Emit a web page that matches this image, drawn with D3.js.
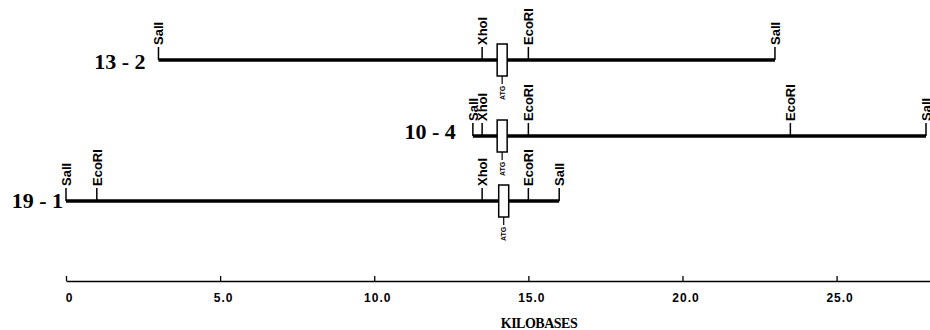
<!DOCTYPE html>
<html>
<head>
<meta charset="utf-8">
<script src="https://cdn.jsdelivr.net/npm/d3@7"></script>
<style>
  html, body { margin: 0; padding: 0; background: #fff; }
  svg { display: block; }
</style>
</head>
<body>
<figure id="map" style="margin:0"></figure>
<script>
// clones and their extent in kilobases
const clones = ["13 - 2", "10 - 4", "19 - 1"];
const cloneStart = [3.0, 13.2, 0];
const cloneEnd = [23.0, 27.9, 16.0];

// restriction sites for each clone
const siteNames = [
  ["SalI", "XhoI", "EcoRI", "SalI"],
  ["SalI", "XhoI", "EcoRI", "EcoRI", "SalI"],
  ["SalI", "EcoRI", "XhoI", "EcoRI", "SalI"]
];
const sitePos = [
  [3.0, 13.5, 15.0, 23.0],
  [13.2, 13.5, 15.0, 23.5, 27.9],
  [0, 1.0, 13.5, 15.0, 16.0]
];

// ATG box position for each clone
const atgPos = [14.15, 14.15, 14.2];

// axis ticks
const tickValues = [0, 5, 10, 15, 20, 25];
const tickLabels = ["0", "5.0", "10.0", "15.0", "20.0", "25.0"];
const axisTitle = "KILOBASES";

const width = 930;
const height = 330;

// layout of the rows
const rowY = [60, 136, 201];
const labelGap = [13, 17, 3];
const labelDy = [9, 3, 7];

const svg = d3.select("figure#map")
  .append("svg")
  .attr("width", width)
  .attr("height", height)
  .style("background", "#fff");

const x = d3.scaleLinear()
  .domain([0, 28.03])
  .range([66, 930]);

// Draw each clone
clones.forEach((name, i) => {
  const g = svg.append("g")
    .attr("transform", "translate(0," + rowY[i] + ")");

  // clone label
  g.append("text")
    .attr("x", x(cloneStart[i]) - labelGap[i])
    .attr("y", labelDy[i])
    .attr("text-anchor", "end")
    .style("font-family", "'Liberation Serif', 'Times New Roman', serif")
    .style("font-weight", "bold")
    .style("font-size", "22px")
    .text(name);

  // the clone itself
  g.append("line")
    .attr("x1", x(cloneStart[i]))
    .attr("x2", x(cloneEnd[i]))
    .attr("y1", 0)
    .attr("y2", 0)
    .attr("stroke", "#000")
    .attr("stroke-width", 3.5);

  // site ticks
  g.selectAll("line.site")
    .data(sitePos[i])
    .enter()
    .append("line")
    .attr("class", "site")
    .attr("x1", d => x(d))
    .attr("x2", d => x(d))
    .attr("y1", 0)
    .attr("y2", -13)
    .attr("stroke", "#000")
    .attr("stroke-width", 1.5);

  // site names, rotated
  g.selectAll("text.site")
    .data(sitePos[i])
    .enter()
    .append("text")
    .attr("class", "site")
    .attr("transform", d => "translate(" + (x(d) + 5) + ",-15)rotate(-90)")
    .style("font-family", "'Liberation Sans', Arial, sans-serif")
    .style("font-weight", "bold")
    .style("font-size", "13px")
    .text((d, j) => siteNames[i][j]);

  // ATG box
  const ax = x(atgPos[i]);
  g.append("rect")
    .attr("x", ax - 5)
    .attr("y", -16)
    .attr("width", 10)
    .attr("height", 32)
    .attr("fill", "#fff")
    .attr("stroke", "#000")
    .attr("stroke-width", 1.5);

  g.append("line")
    .attr("x1", ax)
    .attr("x2", ax)
    .attr("y1", 16)
    .attr("y2", 24)
    .attr("stroke", "#000")
    .attr("stroke-width", 1.2);

  g.append("text")
    .attr("transform", "translate(" + (ax + 2.5) + ",40)rotate(-90)")
    .style("font-family", "'Liberation Sans', Arial, sans-serif")
    .style("font-weight", "bold")
    .style("font-size", "7px")
    .text("ATG");
});

// Draw the X-axis
const axis = svg.append("g")
  .attr("transform", "translate(0,281)")
  .call(d3.axisBottom(x)
    .tickValues(tickValues)
    .tickFormat((d, i) => tickLabels[i])
    .tickSize(-5)
    .tickSizeOuter(0)
    .tickPadding(12));

axis.select(".domain")
  .attr("stroke", "#000")
  .attr("stroke-width", 1.5);

axis.selectAll(".tick line")
  .attr("stroke", "#000")
  .attr("stroke-width", 1.3);

axis.selectAll(".tick text")
  .attr("dx", 3)
  .style("font-family", "'Liberation Sans', Arial, sans-serif")
  .style("font-weight", "bold")
  .style("font-size", "12px")
  .style("letter-spacing", "1px")
  .attr("fill", "#000");

svg.append("text")
  .attr("x", 539)
  .attr("y", 328)
  .attr("text-anchor", "middle")
  .style("font-family", "'Liberation Serif', 'Times New Roman', serif")
  .style("font-weight", "bold")
  .style("font-size", "14px")
  .style("letter-spacing", "-0.5px")
  .text(axisTitle);
</script>
</body>
</html>
